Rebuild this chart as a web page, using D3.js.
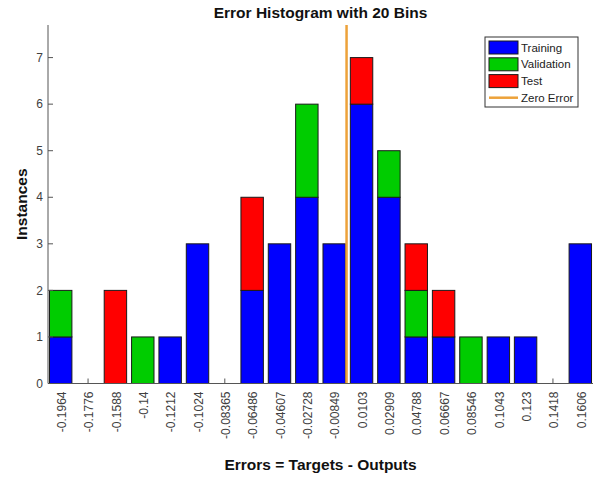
<!DOCTYPE html>
<html>
<head>
<meta charset="utf-8">
<script src="https://cdn.jsdelivr.net/npm/d3@7"></script>
<style>
  html, body { margin: 0; padding: 0; background: #fff; }
  svg { display: block; font-family: "Liberation Sans", Arial, Helvetica, sans-serif; }
</style>
</head>
<body>
<svg id="chart" width="595" height="477"></svg>
<script>
// ---- data ----
const binLabels = ["-0.1964","-0.1776","-0.1588","-0.14","-0.1212","-0.1024","-0.08365","-0.06486","-0.04607","-0.02728","-0.00849","0.0103","0.02909","0.04788","0.06667","0.08546","0.1043","0.123","0.1418","0.1606"];
const training   = [1,0,0,0,1,3,0,2,3,4,3,6,4,1,1,0,1,1,0,3];
const validation = [1,0,0,1,0,0,0,0,0,2,0,0,1,1,0,1,0,0,0,0];
const test       = [0,0,2,0,0,0,0,2,0,0,0,1,0,1,1,0,0,0,0,0];
const seriesNames = ["Training","Validation","Test"];
const seriesColors = ["#0000ff","#00cc00","#ff0000"];
const yTicks = [0,1,2,3,4,5,6,7];
const yMax = 7.7;
const zeroError = 0;

// ---- layout ----
const svg = d3.select("#chart");
const pL = 48, pR = 593, pT = 25, pB = 383.5;
const centers = binLabels.map(Number);
const binW = (centers[centers.length-1] - centers[0]) / (centers.length - 1);
const pad = 0.464 * binW;
const x = d3.scaleLinear().domain([centers[0] - pad, centers[centers.length-1] + pad]).range([pL, pR]);
const y = d3.scaleLinear().domain([0, yMax]).range([pB, pT]);
const barW = (x(binW) - x(0)) * 0.82;

const axisColor = "#555";
const textColor = "#404040";

// x ticks (inward), drawn before bars
svg.append("g").selectAll("line").data(centers).join("line")
  .attr("x1", d => x(d)).attr("x2", d => x(d))
  .attr("y1", pB).attr("y2", pB - 5)
  .attr("stroke", axisColor).attr("stroke-width", 1);

// stacked bars
const rows = binLabels.map((b, i) => ({ c: centers[i], Training: training[i], Validation: validation[i], Test: test[i] }));
const stack = d3.stack().keys(seriesNames)(rows);
const gBars = svg.append("g");
stack.forEach((layer, k) => {
  gBars.selectAll(null).data(layer.filter(d => d[1] - d[0] > 0)).join("rect")
    .attr("x", d => x(d.data.c) - barW / 2)
    .attr("width", barW)
    .attr("y", d => y(d[1]))
    .attr("height", d => y(d[0]) - y(d[1]))
    .attr("fill", seriesColors[k])
    .attr("stroke", "#1a1a1a").attr("stroke-width", 1);
});
// zero-height bins drawn as flat lines
const totals = rows.map(r => r.Training + r.Validation + r.Test);
gBars.selectAll(null).data(rows.filter((r, i) => totals[i] === 0)).join("line")
  .attr("x1", d => x(d.c) - barW / 2).attr("x2", d => x(d.c) + barW / 2)
  .attr("y1", y(0)).attr("y2", y(0))
  .attr("stroke", "#1a1a1a").attr("stroke-width", 1);

// zero error line
svg.append("line")
  .attr("x1", x(zeroError)).attr("x2", x(zeroError))
  .attr("y1", pT).attr("y2", pB)
  .attr("stroke", "#eda23a").attr("stroke-width", 2.5);

// axes lines
svg.append("line").attr("x1", pL).attr("x2", pL).attr("y1", pT).attr("y2", pB)
  .attr("stroke", axisColor).attr("stroke-width", 1);
svg.append("line").attr("x1", pL).attr("x2", pR).attr("y1", pB).attr("y2", pB)
  .attr("stroke", axisColor).attr("stroke-width", 1);

// y ticks & labels
const gy = svg.append("g");
gy.selectAll("line").data(yTicks).join("line")
  .attr("x1", pL).attr("x2", pL + 5)
  .attr("y1", d => y(d)).attr("y2", d => y(d))
  .attr("stroke", axisColor);
gy.selectAll("text").data(yTicks).join("text")
  .attr("x", pL - 5).attr("y", d => y(d)).attr("dy", "0.35em")
  .attr("text-anchor", "end").attr("font-size", 12).attr("fill", textColor)
  .text(d => d);

// x tick labels (rotated)
svg.append("g").selectAll("text").data(binLabels).join("text")
  .attr("transform", (d, i) => `translate(${x(centers[i]) + 1},${pB + 8}) rotate(-90)`)
  .attr("dy", "0.35em")
  .attr("text-anchor", "end").attr("font-size", 12).attr("fill", textColor)
  .text(d => d);

// titles
svg.append("text").attr("x", (pL + pR) / 2).attr("y", 18)
  .attr("text-anchor", "middle").attr("font-size", 15.5).attr("font-weight", "bold").attr("fill", "#111")
  .text("Error Histogram with 20 Bins");
svg.append("text").attr("x", (pL + pR) / 2).attr("y", 470)
  .attr("text-anchor", "middle").attr("font-size", 15.5).attr("font-weight", "bold").attr("fill", "#111")
  .text("Errors = Targets - Outputs");
svg.append("text").attr("transform", `translate(27,${(pT + pB) / 2}) rotate(-90)`)
  .attr("text-anchor", "middle").attr("font-size", 15.5).attr("font-weight", "bold").attr("fill", "#111")
  .text("Instances");

// legend
const lg = svg.append("g").attr("transform", "translate(485,37)");
lg.append("rect").attr("x", 0).attr("y", 0).attr("width", 93).attr("height", 70)
  .attr("fill", "#fff").attr("stroke", "#333").attr("stroke-width", 1);
seriesNames.forEach((name, k) => {
  lg.append("rect").attr("x", 4).attr("y", 4 + k * 16.8).attr("width", 29).attr("height", 13)
    .attr("fill", seriesColors[k]).attr("stroke", "#1a1a1a");
  lg.append("text").attr("x", 36).attr("y", 10.5 + k * 16.8).attr("dy", "0.35em")
    .attr("font-size", 11.5).attr("fill", "#222").text(name);
});
lg.append("line").attr("x1", 4).attr("x2", 33).attr("y1", 60.7).attr("y2", 60.7)
  .attr("stroke", "#eda23a").attr("stroke-width", 2.5);
lg.append("text").attr("x", 36).attr("y", 60.7).attr("dy", "0.35em")
  .attr("font-size", 11.5).attr("fill", "#222").text("Zero Error");
</script>
</body>
</html>
